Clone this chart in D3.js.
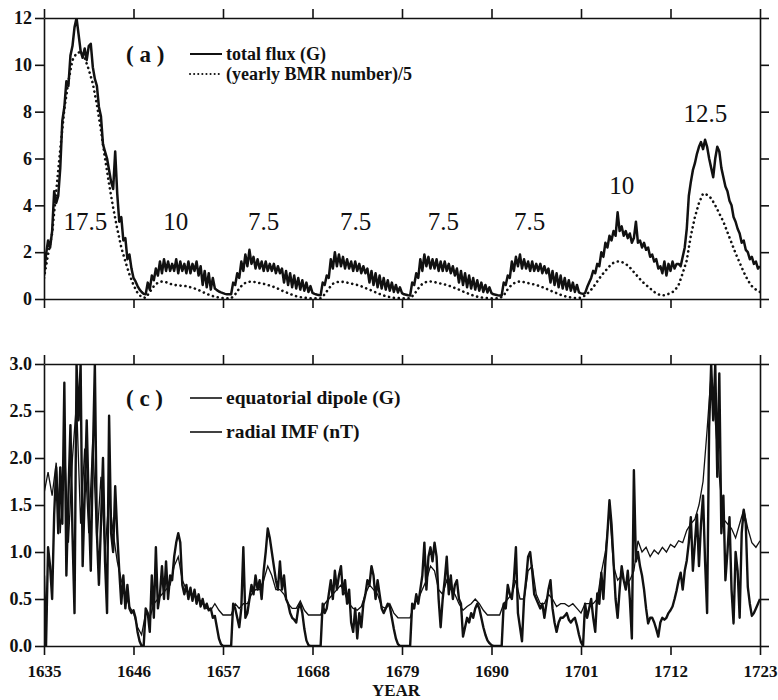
<!DOCTYPE html>
<html>
<head>
<meta charset="utf-8">
<script src="https://cdn.jsdelivr.net/npm/d3@7/dist/d3.min.js"></script>
<style>
  body { margin: 0; background: #fff; }
  text { font-family: "Liberation Serif", "Times New Roman", serif; fill: #111; }
</style>
</head>
<body>
<svg id="chart" width="778" height="700"></svg>
<script>
// ---- data ----
const firstYear = 1635;
const quarterStep = 0.25;   // total flux and equatorial dipole
const halfStep = 0.5;       // BMR number and radial IMF

// (a) total flux (G), every quarter year 1635.00 .. 1723.00
const totalFlux = [
  1.0, 1.9, 2.5, 2.2,   // 1635
  2.9, 4.6, 4.1, 4.4,
  5.6, 7.6, 8.2, 9.3,
  9.1, 10.4, 10.8, 11.6,
  12.0, 11.3, 10.6, 10.3,
  10.7, 10.2, 10.8, 10.9, // 1640
  9.9, 9.4, 9.1, 8.2,
  7.8, 6.6, 6.3, 6.0,
  5.5, 5.0, 4.7, 6.3,
  4.5, 3.3, 3.5, 2.5,
  2.6, 1.7, 1.9, 1.3,   // 1645
  0.9, 0.75, 0.55, 0.4,
  0.3, 0.22, 0.2, 0.7,
  0.4, 1.0, 0.8, 1.3,
  1.0, 1.6, 1.1, 1.7,
  1.2, 1.6, 1.2, 1.5,   // 1650
  1.2, 1.7, 1.1, 1.6,
  1.2, 1.5, 1.1, 1.6,
  1.1, 1.5, 1.2, 1.6,
  1.0, 1.4, 0.6, 1.2,
  0.5, 1.1, 0.4, 0.9,   // 1655
  0.45, 0.38, 0.32, 0.28,
  0.25, 0.22, 0.2, 0.2,
  0.2, 0.7, 0.6, 1.1,
  0.9, 1.6, 1.2, 1.9,
  1.4, 2.1, 1.5, 1.8,   // 1660
  1.3, 1.7, 1.3, 1.6,
  1.2, 1.6, 1.2, 1.5,
  1.2, 1.5, 1.1, 1.4,
  1.1, 1.3, 0.7, 1.2,
  0.6, 1.1, 0.5, 1.0,   // 1665
  0.45, 0.9, 0.4, 0.8,
  0.35, 0.7, 0.3, 0.55,
  0.26, 0.22, 0.19, 0.17,
  0.16, 0.7, 0.6, 1.0,
  0.9, 1.7, 1.3, 2.0,   // 1670
  1.4, 1.9, 1.4, 1.8,
  1.3, 1.7, 1.3, 1.6,
  1.2, 1.6, 1.2, 1.5,
  1.1, 1.4, 1.1, 1.3,
  0.7, 1.2, 0.6, 1.1,   // 1675
  0.5, 1.0, 0.45, 0.9,
  0.4, 0.8, 0.35, 0.7,
  0.3, 0.6, 0.28, 0.5,
  0.25, 0.2, 0.18, 0.16,
  0.15, 0.7, 0.6, 1.1,  // 1680
  0.9, 1.7, 1.2, 1.9,
  1.4, 1.8, 1.3, 1.7,
  1.3, 1.7, 1.2, 1.6,
  1.2, 1.6, 1.2, 1.5,
  1.1, 1.4, 1.0, 1.3,   // 1685
  0.7, 1.2, 0.6, 1.1,
  0.5, 1.0, 0.45, 0.9,
  0.4, 0.8, 0.35, 0.7,
  0.3, 0.6, 0.28, 0.5,
  0.25, 0.2, 0.18, 0.16, // 1690
  0.15, 0.15, 0.7, 0.6,
  1.0, 0.9, 1.6, 1.2,
  1.8, 1.4, 1.9, 1.3,
  1.7, 1.3, 1.6, 1.2,
  1.6, 1.2, 1.5, 1.2,   // 1695
  1.5, 1.1, 1.4, 1.1,
  1.3, 0.7, 1.2, 0.6,
  1.1, 0.5, 1.0, 0.45,
  0.9, 0.4, 0.8, 0.35,
  0.7, 0.3, 0.6, 0.28,  // 1700
  0.24, 0.22, 0.25, 0.5,
  0.7, 0.9, 1.2, 1.1,
  1.5, 1.4, 2.0, 1.8,
  2.4, 2.2, 2.7, 2.5,
  2.9, 2.7, 3.7, 2.9,   // 1705
  3.1, 2.7, 2.9, 2.6,
  2.8, 2.4, 2.6, 3.3,
  2.4, 2.5, 2.2, 2.4,
  2.1, 2.2, 1.8, 1.9,
  1.6, 1.7, 1.3, 1.4,   // 1710
  1.1, 1.6, 1.0, 1.5,
  1.2, 1.6, 1.3, 1.5,
  1.5, 1.4, 1.8, 2.2,
  3.0, 4.4, 5.0, 5.5,
  5.8, 6.2, 6.5, 6.7,   // 1715
  6.4, 6.8, 6.5, 6.0,
  5.6, 5.2, 6.0, 6.5,
  6.3, 5.6, 5.2, 4.8,
  4.6, 4.2, 4.0, 3.5,
  3.3, 3.0, 2.8, 2.4,   // 1720
  2.5, 2.1, 2.0, 1.7,
  1.8, 1.5, 1.6, 1.3,
  1.4                   // 1723
];

// (a) (yearly BMR number)/5, every half year 1635.0 .. 1723.0
const bmrFifth = [
  0.9, 1.9,  2.8, 4.6,  6.4, 8.1,  9.3, 10.2,  10.5, 10.55,   // 1635-39
  10.3, 9.8,  9.2, 8.3,  7.2, 6.0,  4.9, 3.9,  3.0, 2.2,      // 1640-44
  1.6, 1.05,  0.6, 0.25,  0.08, 0.05,  0.3, 0.55,  0.7, 0.75, // 1645-49
  0.72, 0.65,  0.6, 0.58,  0.56, 0.55,  0.5, 0.45,  0.38, 0.3,
  0.22, 0.15,  0.1, 0.06,  0.04, 0.03,  0.03, 0.2,  0.45, 0.65,
  0.72, 0.75,  0.72, 0.68,  0.65, 0.6,  0.55, 0.48,  0.4, 0.32, // 1660-64
  0.25, 0.18,  0.12, 0.08,  0.05, 0.04,  0.03, 0.03,  0.03, 0.2,
  0.45, 0.65,  0.72, 0.74,  0.72, 0.68,  0.64, 0.6,  0.54, 0.47, // 1670-74
  0.4, 0.32,  0.25, 0.18,  0.12, 0.08,  0.05, 0.04,  0.03, 0.03,
  0.03, 0.2,  0.45, 0.65,  0.73, 0.75,  0.72, 0.68,  0.64, 0.6,  // 1680-84
  0.54, 0.47,  0.4, 0.32,  0.25, 0.18,  0.12, 0.08,  0.05, 0.04,
  0.03, 0.03,  0.03, 0.15,  0.42, 0.62,  0.72, 0.75,  0.72, 0.68, // 1690-94
  0.64, 0.6,  0.54, 0.47,  0.4, 0.32,  0.25, 0.18,  0.12, 0.08,
  0.05, 0.04,  0.05, 0.15,  0.3, 0.5,  0.75, 1.0,  1.2, 1.4,     // 1700-04
  1.55, 1.6,  1.58, 1.5,  1.35, 1.15,  0.95, 0.75,  0.6, 0.45,
  0.3, 0.2,  0.15, 0.18,  0.25, 0.35,  0.6, 1.1,  1.65, 2.7,     // 1710-14
  3.5, 4.1,  4.5, 4.45,  4.3, 4.0,  3.65, 3.3,  2.85, 2.4,
  1.95, 1.55,  1.15, 0.8,  0.55, 0.4,                            // 1720-22
  0.3                                                            // 1723
];

// (c) equatorial dipole (G), every quarter year 1635.00 .. 1723.00
const eqDipole = [
  0.75, 0.0, 1.05, 0.85,  // 1635
  0.5, 1.4, 1.9, 1.2,
  1.9, 1.3, 2.8, 0.75,
  1.6, 2.35, 1.2, 0.35,
  3.0, 2.4, 3.0, 0.85,
  1.6, 2.4, 1.5, 0.8,     // 1640
  2.0, 3.0, 1.2, 0.65,
  1.3, 2.0, 0.9, 0.35,
  2.45, 1.2, 1.0, 1.7,
  1.2, 0.8, 0.45, 0.75,
  0.4, 0.65, 0.4, 0.35,   // 1645
  0.38, 0.3, 0.15, 0.05,
  0.0, 0.0, 0.4, 0.35,
  0.15, 0.75, 0.3, 1.05,
  0.4, 0.55, 0.85, 0.5,
  0.9, 0.5, 0.75, 0.7,    // 1650
  0.95, 1.1, 1.2, 1.1,
  0.65, 0.55, 0.65, 0.5,
  0.62, 0.48, 0.6, 0.45,
  0.55, 0.42, 0.5, 0.4,
  0.45, 0.38, 0.4, 0.3,   // 1655
  0.32, 0.2, 0.08, 0.02,
  0, 0, 0, 0,
  0, 0.45, 0.4, 0.3,
  0.2, 0.4, 1.05, 0.3,
  0.35, 0.5, 0.65, 0.55,  // 1660
  0.75, 0.6, 0.7, 0.5,
  0.8, 1.0, 1.25, 1.15,
  1.0, 0.85, 0.7, 0.6,
  0.9, 0.6, 0.75, 0.5,
  0.45, 0.35, 0.3, 0.28,  // 1665
  0.25, 0.4, 0.45, 0.35,
  0.18, 0.06, 0.01, 0,
  0, 0, 0, 0,
  0, 0.45, 0.35, 0.4,
  0.55, 0.7, 0.5, 0.8,    // 1670
  0.6, 0.75, 0.85, 0.55,
  0.7, 0.45, 0.6, 0.25,
  0.15, 0.4, 0.08, 0.35,
  0.2, 0.45, 0.55, 0.7,
  0.65, 0.85, 0.75, 0.5,  // 1675
  0.7, 0.55, 0.4, 0.35,
  0.4, 0.45, 0.42, 0.3,
  0.18, 0.08, 0.02, 0,
  0, 0, 0, 0,
  0, 0.45, 0.4, 0.55,     // 1680
  0.45, 0.6, 0.75, 1.1,
  0.6, 0.95, 1.05, 0.9,
  1.1, 0.95, 0.5, 0.2,
  0.5, 0.7, 0.95, 0.55,
  0.75, 0.5, 0.65, 0.7,   // 1685
  0.5, 0.45, 0.1, 0.2,
  0.3, 0.25, 0.35, 0.3,
  0.4, 0.45, 0.4, 0.3,
  0.2, 0.12, 0.06, 0.03,
  0.01, 0, 0, 0,          // 1690
  0, 0, 0.45, 0.4,
  0.65, 0.55, 0.5, 0.7,
  1.05, 0.35, 0.2, 0.05,
  0.5, 0.7, 0.95, 1.0,
  0.8, 0.55, 0.5, 0.45,   // 1695
  0.4, 0.45, 0.3, 0.45,
  0.6, 0.7, 0.4, 0.25,
  0.15, 0.25, 0.3, 0.3,
  0.32, 0.35, 0.28, 0.25,
  0.28, 0.3, 0.22, 0.12,  // 1700
  0.04, 0, 0.45, 0.3,
  0.4, 0.5, 0.3, 0.15,
  0.56, 0.45, 0.78, 0.5,
  0.9, 1.2, 1.55, 1.3,
  0.9, 0.5, 0.3, 0.6,     // 1705
  0.85, 0.7, 0.6, 0.8,
  0.5, 0.08, 1.87, 0.9,
  1.0, 0.85, 0.75, 0.6,
  0.4, 0.24, 0.3, 0.3,
  0.25, 0.18, 0.1, 0.25,  // 1710
  0.3, 0.28, 0.3, 0.35,
  0.38, 0.42, 0.5, 0.59,
  0.7, 0.78, 0.6, 0.8,
  0.91, 1.1, 1.37, 0.8,
  1.1, 1.4, 0.85, 1.3,    // 1715
  1.6, 0.9, 0.35, 2.33,
  3.0, 2.4, 3.0, 1.8,
  2.9, 1.2, 1.6, 0.7,
  1.0, 1.37, 0.6, 0.24,
  1.0, 0.8, 0.3, 1.2,     // 1720
  1.45, 1.3, 0.63, 0.45,
  0.32, 0.35, 0.4, 0.45,
  0.5                     // 1723
];

// (c) radial IMF (nT), every half year 1635.0 .. 1723.0
const radialImf = [
  1.62, 1.85,  1.6, 1.95,  1.2, 2.2,  1.1, 2.0,  2.6, 1.3,      // 1635-39
  2.1, 1.2,  2.2, 1.1,  1.8, 1.0,  1.6, 1.2,  0.9, 0.7,         // 1640-44
  0.55, 0.42,  0.35, 0.2,  0.12, 0.35,  0.3, 0.45,  0.5, 0.55,  // 1645-49
  0.6, 0.65,  0.85, 0.95,  0.7, 0.6,  0.55, 0.55,  0.5, 0.45,   // 1650-54
  0.4, 0.38,  0.45, 0.38,  0.33, 0.33,  0.33, 0.45,  0.4, 0.45, // 1655-59
  0.45, 0.55,  0.6, 0.6,  0.7, 0.85,  0.75, 0.6,  0.6, 0.55,    // 1660-64
  0.45, 0.4,  0.4, 0.48,  0.38, 0.33,  0.33, 0.33,  0.33, 0.45, // 1665-69
  0.5, 0.55,  0.6, 0.65,  0.55, 0.45,  0.4, 0.38,  0.42, 0.55,  // 1670-74
  0.65, 0.6,  0.55, 0.42,  0.4, 0.45,  0.35, 0.3,  0.3, 0.3,    // 1675-79
  0.3, 0.45,  0.5, 0.6,  0.7, 0.85,  0.8, 0.6,  0.55, 0.7,      // 1680-84
  0.6, 0.55,  0.45, 0.38,  0.42, 0.45,  0.5, 0.45,  0.38, 0.33, // 1685-89
  0.33, 0.33,  0.33, 0.45,  0.5, 0.55,  0.7, 0.5,  0.5, 0.8,    // 1690-94
  0.85, 0.55,  0.45, 0.45,  0.55, 0.5,  0.42, 0.45,  0.45, 0.42,// 1695-99
  0.45, 0.4,  0.35, 0.45,  0.45, 0.45,  0.5, 0.78,  1.0, 1.45,  // 1700-04
  0.85, 0.7,  0.75, 0.65,  0.7, 0.8,  1.12, 1.0,  1.05, 0.95,   // 1705-09
  1.02, 0.98,  1.05, 1.0,  1.08, 1.05,  1.12, 1.1,  1.23, 1.3,  // 1710-14
  1.35, 1.5,  1.75, 2.3,  2.9, 2.4,  1.8, 1.35,  1.3, 1.25,     // 1715-19
  1.15, 1.3,  1.45, 1.25,  1.1, 1.05,                           // 1720-22
  1.12                                                          // 1723
];

const yearTicks = [1635, 1646, 1657, 1668, 1679, 1690, 1701, 1712, 1723];
const fluxTicks = [0, 2, 4, 6, 8, 10, 12];
const dipoleTicks = [0, 0.5, 1.0, 1.5, 2.0, 2.5, 3.0];

// cycle lengths written over panel (a): label, year, flux value at baseline
const cycleNotes = ["17.5", "10", "7.5", "7.5", "7.5", "7.5", "10", "12.5"];
const cycleNoteYears = [1640.1, 1651.2, 1662.0, 1673.3, 1684.1, 1694.7, 1706.0, 1716.3];
const cycleNoteFlux = [2.95, 2.95, 2.95, 2.95, 2.95, 2.95, 4.5, 7.55];

// ---- layout ----
const svg = d3.select("#chart");
const left = 44, right = 760;
const topPanel = { top: 18, bottom: 299 };
const botPanel = { top: 364, bottom: 646 };

const x = d3.scaleLinear().domain([1635, 1723]).range([left, right]);
const yFlux = d3.scaleLinear().domain([0, 12]).range([topPanel.bottom, topPanel.top]);
const yDip = d3.scaleLinear().domain([0, 3]).range([botPanel.bottom, botPanel.top]);

const defs = svg.append("defs");
defs.append("clipPath").attr("id", "clipA").append("rect")
  .attr("x", left).attr("y", topPanel.top)
  .attr("width", right - left).attr("height", topPanel.bottom - topPanel.top);
defs.append("clipPath").attr("id", "clipC").append("rect")
  .attr("x", left).attr("y", botPanel.top)
  .attr("width", right - left).attr("height", botPanel.bottom - botPanel.top);

function lineFor(yScale, step) {
  return d3.line()
    .x((d, i) => x(firstYear + i * step))
    .y(d => yScale(d));
}

// ---- panel (a) ----
const gA = svg.append("g").attr("clip-path", "url(#clipA)");

gA.append("path")
  .datum(bmrFifth)
  .attr("d", lineFor(yFlux, halfStep))
  .attr("fill", "none")
  .attr("stroke", "#111")
  .attr("stroke-width", 2.6)
  .attr("stroke-linecap", "round")
  .attr("stroke-dasharray", "0.1 4.8");

gA.append("path")
  .datum(totalFlux)
  .attr("d", lineFor(yFlux, quarterStep))
  .attr("fill", "none")
  .attr("stroke", "#111")
  .attr("stroke-width", 2.5)
  .attr("stroke-linejoin", "round");

svg.append("g")
  .selectAll("text")
  .data(cycleNotes)
  .enter()
  .append("text")
  .attr("x", (d, i) => x(cycleNoteYears[i]))
  .attr("y", (d, i) => yFlux(cycleNoteFlux[i]))
  .attr("text-anchor", "middle")
  .attr("font-size", 25)
  .text(d => d);

// ---- panel (c) ----
const gC = svg.append("g").attr("clip-path", "url(#clipC)");

gC.append("path")
  .datum(radialImf)
  .attr("d", lineFor(yDip, halfStep))
  .attr("fill", "none")
  .attr("stroke", "#111")
  .attr("stroke-width", 1.3);

gC.append("path")
  .datum(eqDipole)
  .attr("d", lineFor(yDip, quarterStep))
  .attr("fill", "none")
  .attr("stroke", "#111")
  .attr("stroke-width", 2.4)
  .attr("stroke-linejoin", "round");

// ---- axes / frames ----
function frame(yScale, yTicks, fmt, panel, showYears) {
  const tick = 9;
  const gl = svg.append("g").attr("transform", `translate(${left},0)`)
    .call(d3.axisLeft(yScale).tickValues(yTicks).tickFormat(fmt).tickSize(tick).tickSizeOuter(0).tickPadding(3));
  const gr = svg.append("g").attr("transform", `translate(${right},0)`)
    .call(d3.axisRight(yScale).tickValues(yTicks).tickFormat("").tickSize(tick).tickSizeOuter(0));
  const gt = svg.append("g").attr("transform", `translate(0,${panel.top})`)
    .call(d3.axisTop(x).tickValues(yearTicks).tickFormat("").tickSize(tick).tickSizeOuter(0));
  const gb = svg.append("g").attr("transform", `translate(0,${panel.bottom})`)
    .call(d3.axisBottom(x).tickValues(yearTicks).tickFormat(showYears ? d3.format("d") : "").tickSize(tick).tickSizeOuter(0));

  [gl, gr, gt, gb].forEach(g => {
    g.select(".domain").attr("stroke", "#111").attr("stroke-width", 1.6);
    g.selectAll(".tick line").attr("stroke", "#111").attr("stroke-width", 1.6);
    g.selectAll("text")
      .attr("font-family", '"Liberation Serif", "Times New Roman", serif')
      .attr("font-weight", "bold")
      .attr("fill", "#111");
  });
  gl.selectAll("text").attr("font-size", 18);
  if (showYears) {
    gb.selectAll("text").attr("font-size", 17).attr("y", 31).attr("dy", 0);
  }
}

frame(yFlux, fluxTicks, d3.format("d"), topPanel, false);
frame(yDip, dipoleTicks, d3.format(".1f"), botPanel, true);

svg.append("text")
  .attr("x", 396).attr("y", 696)
  .attr("text-anchor", "middle")
  .attr("font-weight", "bold")
  .attr("font-size", 17)
  .text("YEAR");

// ---- legends ----
function legend(tag, tagBaseline, rows) {
  svg.append("text")
    .attr("x", 126).attr("y", tagBaseline)
    .attr("font-weight", "bold").attr("font-size", 23)
    .text(tag);
  rows.forEach(r => {
    svg.append("line")
      .attr("x1", 190).attr("x2", 222).attr("y1", r.y).attr("y2", r.y)
      .attr("stroke", "#111").attr("stroke-width", r.width)
      .attr("stroke-linecap", r.dash ? "round" : "butt")
      .attr("stroke-dasharray", r.dash || null);
    svg.append("text")
      .attr("x", 226).attr("y", r.y + 6)
      .attr("font-weight", "bold").attr("font-size", r.size)
      .text(r.label);
  });
}

legend("( a )", 62, [
  { y: 54, label: "total flux (G)", width: 2, size: 18 },
  { y: 74, label: "(yearly BMR number)/5", width: 2, dash: "0.1 4", size: 18 }
]);
legend("( c )", 406, [
  { y: 398, label: "equatorial dipole (G)", width: 1.6, size: 19.5 },
  { y: 432, label: "radial IMF (nT)", width: 1.6, size: 19.5 }
]);
</script>
</body>
</html>
